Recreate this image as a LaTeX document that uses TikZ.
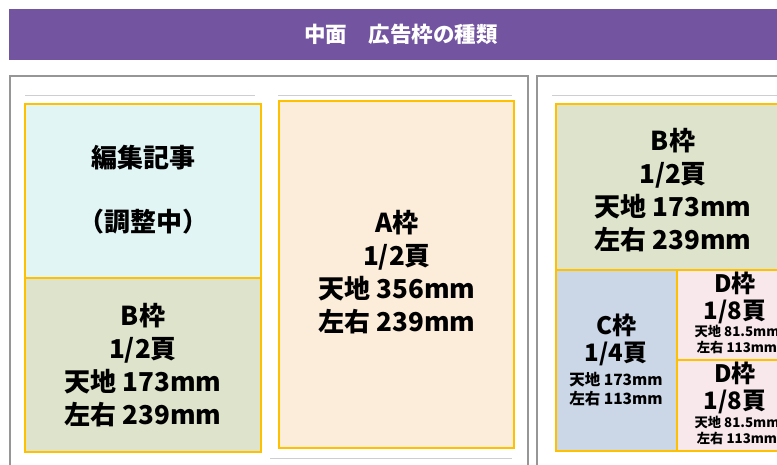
\documentclass[tikz,border=0pt]{standalone}
\usepackage{fontspec}
\newfontfamily\jpfont{Noto Sans CJK JP}
\begin{document}
\begin{tikzpicture}[x=1pt,y=1pt]
\tikzset{
  waku/.style={draw=borderColor,line width=1.8pt},
  bigtext/.style={text=black,align=center,inner sep=0pt,outer sep=0pt,
    font=\jpfont\bfseries\fontsize{26}{33}\selectfont},
  midtext/.style={text=black,align=center,inner sep=0pt,outer sep=0pt,
    font=\jpfont\bfseries\fontsize{24}{27}\selectfont},
  smalltext/.style={text=black,align=center,inner sep=0pt,outer sep=0pt,
    font=\jpfont\bfseries\fontsize{15.5}{19}\selectfont},
  tinytext/.style={text=black,align=center,inner sep=0pt,outer sep=0pt,
    font=\jpfont\bfseries\fontsize{13.3}{16}\selectfont}
}
\definecolor{fillColor}{RGB}{255,255,255}
\path[use as bounding box,fill=fillColor] (0,0) rectangle (777,465);
\begin{scope}
\path[clip] (0,0) rectangle (777,465);
\definecolor{bannerColor}{RGB}{115,84,160}
\definecolor{pageColor}{RGB}{150,150,150}
\definecolor{ruleColor}{RGB}{205,205,210}
\definecolor{borderColor}{RGB}{255,192,0}

% title banner
\path[fill=bannerColor] (9,405) rectangle (777,456);
\node[text=white,inner sep=0pt,outer sep=0pt,font=\jpfont\bfseries\fontsize{21.5}{24}\selectfont] (title) at (401,431) {中面　広告枠の種類};

% page frames
\path[fill=white,draw=pageColor,line width=1.6pt] (10,-10) rectangle (528,389);
\path[fill=white,draw=pageColor,line width=1.6pt] (537,-10) rectangle (800,389);
\path[draw=ruleColor,line width=0.8pt] (25,370) -- (255,370);
\path[draw=ruleColor,line width=0.8pt] (278,370) -- (512,370);
\path[draw=ruleColor,line width=0.8pt] (552,370) -- (777,370);
\path[draw=ruleColor,line width=0.8pt] (270,7) -- (512,7);

% left page
\definecolor{fillColor}{RGB}{226,245,245}
\path[fill=fillColor,waku] (25,187) rectangle (261,361);
\definecolor{fillColor}{RGB}{222,227,203}
\path[fill=fillColor,waku] (25,13) rectangle (261,187);
\definecolor{fillColor}{RGB}{252,236,218}
\path[fill=fillColor,waku] (279,17) rectangle (514,364);

\node[bigtext] (henshu) at (143,307) {編集記事};
\node[bigtext] (chosei) at (143,243) {（調整中）};
\node[bigtext] (bwakuL) at (143,100) {B枠\\1/2頁\\天地 173mm\\左右 239mm};
\node[bigtext] (awaku) at (397,193) {A枠\\1/2頁\\天地 356mm\\左右 239mm};

% right page
\definecolor{fillColor}{RGB}{222,227,203}
\path[fill=fillColor,waku] (556,195) rectangle (800,361);
\definecolor{fillColor}{RGB}{203,214,230}
\path[fill=fillColor,waku] (556,14) rectangle (677,195);
\definecolor{fillColor}{RGB}{248,232,236}
\path[fill=fillColor,waku] (677,105) rectangle (800,195);
\path[fill=fillColor,waku] (677,14) rectangle (800,105);

\node[bigtext] (bwakuR) at (673,275) {B枠\\1/2頁\\天地 173mm\\左右 239mm};
\node[midtext] (cwaku) at (616,125) {C枠\\1/4頁};
\node[smalltext] (csize) at (616,76) {天地 173mm\\左右 113mm};
\node[midtext] (dwakuA) at (735,167) {D枠\\1/8頁};
\node[tinytext] (dsizeA) at (737,126) {天地 81.5mm\\左右 113mm};
\node[midtext] (dwakuB) at (735,77) {D枠\\1/8頁};
\node[tinytext] (dsizeB) at (737,35) {天地 81.5mm\\左右 113mm};
\end{scope}
\end{tikzpicture}
\end{document}
